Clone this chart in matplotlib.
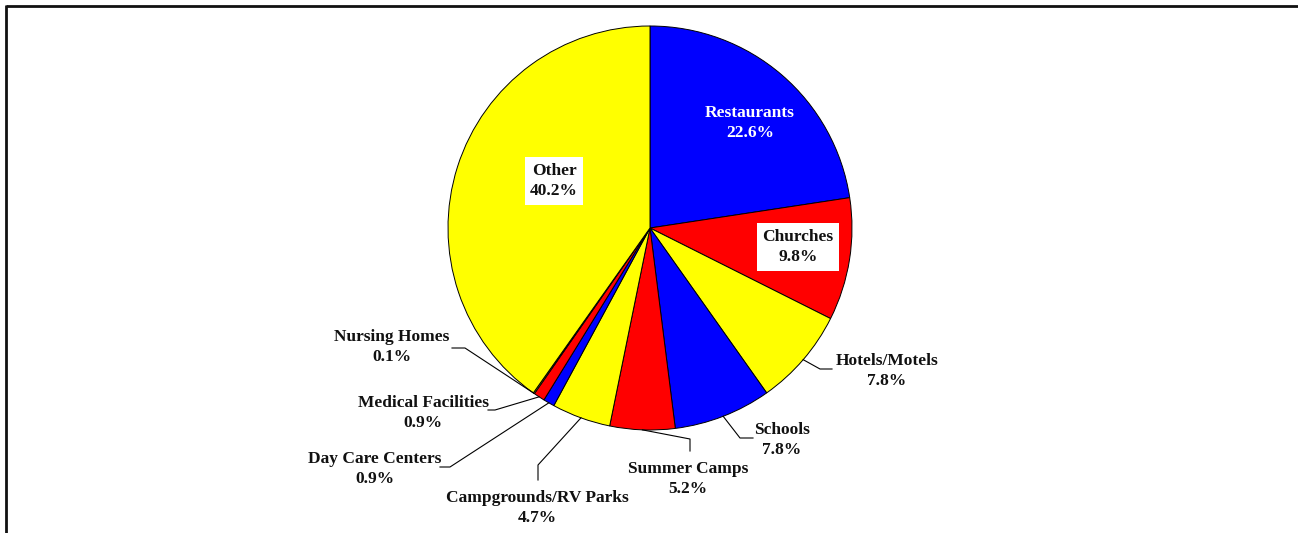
import matplotlib
matplotlib.use('Agg')
import matplotlib.pyplot as plt
import numpy as np

categories = ['Restaurants', 'Churches', 'Hotels/Motels', 'Schools', 'Summer Camps',
              'Campgrounds/RV Parks', 'Day Care Centers', 'Medical Facilities',
              'Nursing Homes', 'Other']
shares = [22.6, 9.8, 7.8, 7.8, 5.2, 4.7, 0.9, 0.9, 0.1, 40.2]
colors = ['#0000ff', '#ff0000', '#ffff00', '#0000ff', '#ff0000',
          '#ffff00', '#0000ff', '#ff0000', '#ffff00', '#ffff00']

W, H = 1298, 533
cx, cy, R = 650, 228, 202   # pie centre / radius in pixels (y from top)

def fy(y):
    return H - y

# label text centre, leader elbow, leader end
text_pos = {
    'Restaurants': (750, 123), 'Churches': (798, 247), 'Other': (554, 181),
    'Hotels/Motels': (887, 371), 'Schools': (782, 440), 'Summer Camps': (688, 479),
    'Campgrounds/RV Parks': (537, 508), 'Day Care Centers': (375, 469),
    'Medical Facilities': (423, 413), 'Nursing Homes': (392, 347),
}
leaders = {
    'Hotels/Motels': [(820, 369), (832, 369)],
    'Schools': [(740, 438), (753, 438)],
    'Summer Camps': [(690, 439), (690, 451)],
    'Campgrounds/RV Parks': [(538, 465), (538, 480)],
    'Day Care Centers': [(450, 467), (440, 467)],
    'Medical Facilities': [(495, 410), (488, 410)],
    'Nursing Homes': [(465, 348), (452, 348)],
}
boxed = ['Churches', 'Other']

plt.rcParams['font.family'] = ['Liberation Serif', 'DejaVu Serif']
fig = plt.figure(figsize=(W / 100, H / 100), dpi=100)
ax = fig.add_axes([0, 0, 1, 1])

wedges, _ = ax.pie(shares, colors=colors, startangle=90, counterclock=False,
                   center=(cx, fy(cy)), radius=R, frame=True,
                   wedgeprops=dict(edgecolor='black', linewidth=0.7))
ax.set_xlim(0, W)
ax.set_ylim(0, H)
ax.set_aspect('equal')
ax.axis('off')

for w, name, val in zip(wedges, categories, shares):
    tx, ty = text_pos[name]
    txt = '%s\n%.1f%%' % (name, val)
    kw = dict(ha='center', va='center', fontsize=12.5, fontweight='bold',
              linespacing=1.4, color='#111111')
    if name == 'Restaurants':
        kw['color'] = 'white'
    if name in boxed:
        kw['bbox'] = dict(boxstyle='square,pad=0.3', facecolor='white', edgecolor='none')
    ax.text(tx, fy(ty), txt, **kw)
    if name in leaders:
        mid = np.deg2rad((w.theta1 + w.theta2) / 2)
        pts = [(cx + R * np.cos(mid), fy(cy) + R * np.sin(mid))]
        pts += [(x, fy(y)) for x, y in leaders[name]]
        xs, ys = zip(*pts)
        ax.plot(xs, ys, color='black', linewidth=0.8)

# chart area border (only top and left edges fall inside the image)
ax.plot([6, W], [fy(6), fy(6)], color='#111111', linewidth=2, solid_capstyle='butt')
ax.plot([6, 6], [fy(5), 0], color='#111111', linewidth=2, solid_capstyle='butt')

fig.savefig('out.png', dpi=100)
